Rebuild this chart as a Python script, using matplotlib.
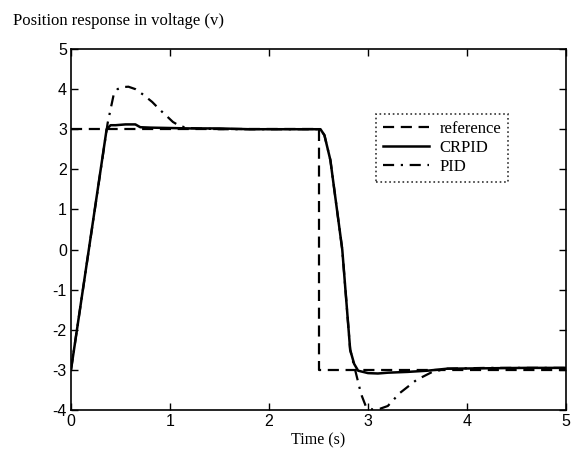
import matplotlib
matplotlib.use("Agg")
import matplotlib.pyplot as plt

plt.rcParams["axes.unicode_minus"] = False

# ---- data ----
ref_t = [0.0, 2.5, 2.5, 5.0]
ref_v = [3.0, 3.0, -3.0, -3.0]

crpid_t = [0.0, 0.36, 0.40, 0.45, 0.55, 0.65, 0.70, 0.80, 1.0, 1.2, 1.5, 1.8,
           2.1, 2.4, 2.52, 2.56, 2.62, 2.74, 2.82, 2.86, 2.90, 3.0, 3.1, 3.2,
           3.4, 3.6, 3.8, 4.2, 4.6, 5.0]
crpid_v = [-3.0, 3.0, 3.1, 3.1, 3.12, 3.12, 3.05, 3.04, 3.03, 3.02, 3.02, 3.0,
           3.0, 3.0, 3.0, 2.85, 2.23, 0.0, -2.5, -2.85, -3.02, -3.08, -3.09, -3.07,
           -3.05, -3.02, -2.97, -2.96, -2.95, -2.95]

pid_t = [0.0, 0.37, 0.40, 0.43, 0.47, 0.52, 0.58, 0.65, 0.73, 0.82, 0.90, 0.97,
         1.03, 1.10, 1.18, 1.5, 1.8, 2.1, 2.4, 2.52, 2.56, 2.62, 2.74, 2.82,
         2.88, 2.93, 2.98, 3.05, 3.12, 3.20, 3.32, 3.49, 3.65, 3.8, 4.2, 4.6, 5.0]
pid_v = [-3.0, 3.15, 3.5, 3.85, 4.0, 4.05, 4.06, 4.0, 3.86, 3.68, 3.48, 3.32,
         3.18, 3.08, 3.03, 3.0, 3.0, 3.0, 3.0, 3.0, 2.85, 2.23, 0.0, -2.5,
         -3.1, -3.6, -3.92, -3.99, -3.97, -3.9, -3.58, -3.25, -3.05, -2.97, -2.95, -2.95, -2.95]

xticks = [0, 1, 2, 3, 4, 5]
yticks = [-4, -3, -2, -1, 0, 1, 2, 3, 4, 5]
labels = ["reference", "CRPID", "PID"]

serif = ["Liberation Serif", "DejaVu Serif"]
sans = ["Liberation Sans", "DejaVu Sans"]

fig = plt.figure(figsize=(5.73, 4.55), dpi=100)
ax = fig.add_axes([71/573, 1-410/455, 495/573, 361/455])

ax.plot(ref_t, ref_v, color="black", lw=1.6, linestyle=(0, (5, 3)), label=labels[0])
ax.plot(crpid_t, crpid_v, color="black", lw=1.8, linestyle="-", label=labels[1])
ax.plot(pid_t, pid_v, color="black", lw=1.6, linestyle=(0, (5, 3, 1, 3)), label=labels[2])

ax.set_xlim(0, 5)
ax.set_ylim(-4, 5)
ax.set_xticks(xticks)
ax.set_yticks(yticks)
ax.tick_params(direction="in", length=5, width=1, top=True, right=True, labelsize=11.5, pad=3)
for lab in ax.get_xticklabels() + ax.get_yticklabels():
    lab.set_family(sans)
for s in ax.spines.values():
    s.set_linewidth(1.2)
    s.set_color("black")

ax.set_xlabel("Time (s)", family=serif, fontsize=11.5, labelpad=2)
fig.text(13/573, 1-25/455, "Position response in voltage (v)", family=serif, fontsize=12,
         ha="left", va="baseline")

leg = ax.legend(loc="upper left", bbox_to_anchor=(0.616, 0.82), frameon=True,
                fancybox=False, prop={"family": serif, "size": 12},
                handlelength=2.8, handletextpad=0.6, borderpad=0.4, labelspacing=0.2,
                borderaxespad=0)
fr = leg.get_frame()
fr.set_linestyle(":")
fr.set_edgecolor("black")
fr.set_linewidth(1.2)

fig.savefig("out.png", dpi=100)
